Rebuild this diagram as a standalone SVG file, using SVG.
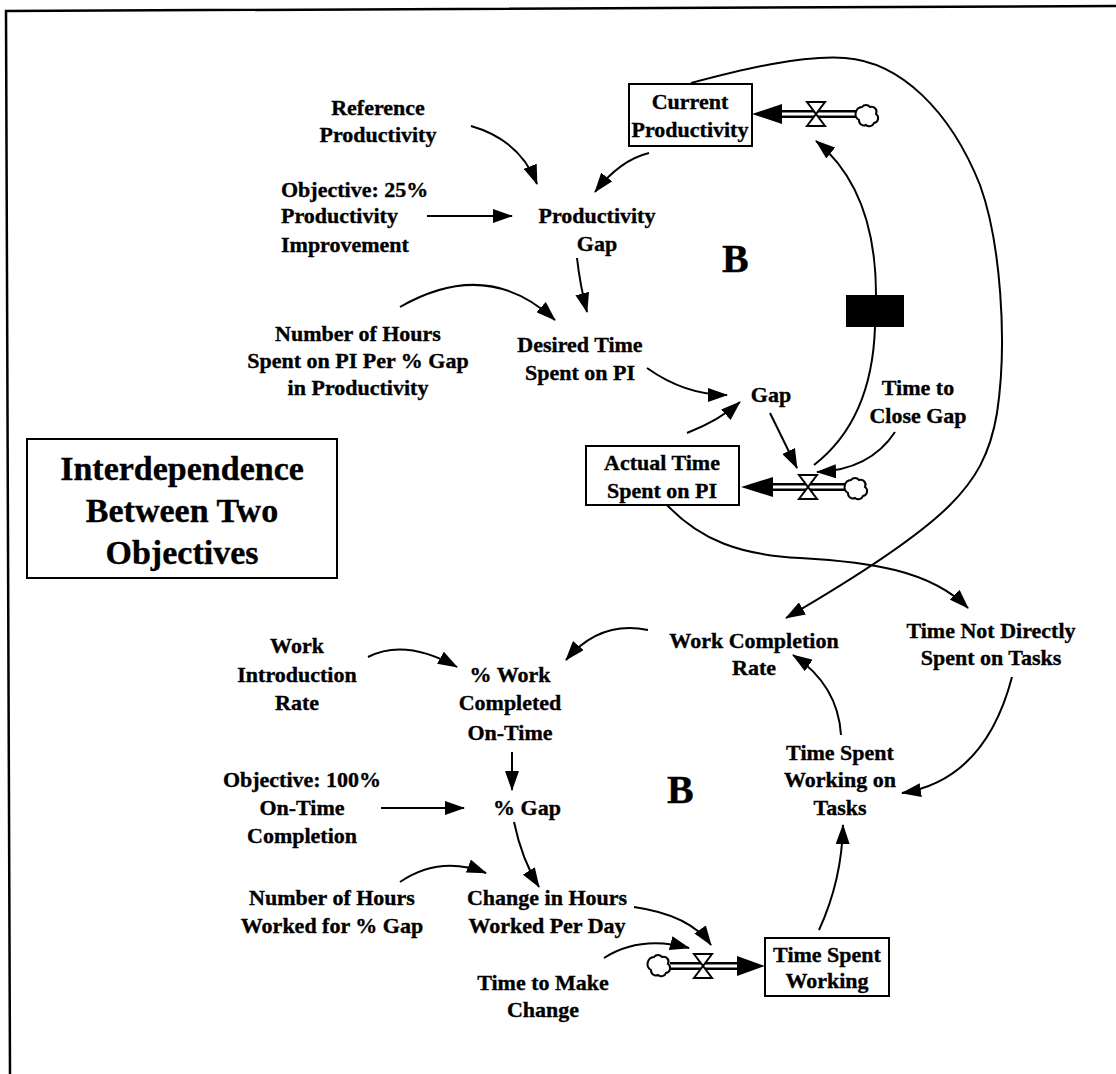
<svg xmlns="http://www.w3.org/2000/svg" width="1116" height="1074" viewBox="0 0 1116 1074">
  <style>
    .t { font-family: "Liberation Serif", "Times New Roman", serif; font-weight: bold; font-size: 22px; text-anchor: middle; fill: #000; stroke: #000; stroke-width: 0.35px; }
    .ts { text-anchor: start; }
    .title { font-size: 34px; }
    .loop { font-size: 40px; text-anchor: start; }
    .box { fill: #fff; stroke: #000; stroke-width: 2; }
    .link { fill: none; stroke: #000; stroke-width: 2; marker-end: url(#ah); }
    .pipeOut { fill: none; stroke: #000; stroke-width: 8; }
    .pipeIn { fill: none; stroke: #fff; stroke-width: 3; }
    .valve { fill: #fff; stroke: #000; stroke-width: 2; stroke-linejoin: miter; }
    .cloud { fill: #fff; stroke: #000; stroke-width: 2; }
  </style>
  <defs>
    <marker id="ah" viewBox="0 0 20 14" refX="19" refY="7" markerWidth="20" markerHeight="14" markerUnits="userSpaceOnUse" orient="auto">
      <path d="M0,0 L20,7 L0,14 z" fill="#000"/>
    </marker>
    <path id="valveShape" d="M-9,-12 L9,-12 L-9,12 L9,12 Z"/>
    <path id="cloudShape" d="M-6,-9 a5,5 0 0 1 8,0 a5,5 0 0 1 6,7 a5,5 0 0 1 -2,9 a5,5 0 0 1 -8,2 a5,5 0 0 1 -7,-5 a7,7 0 0 1 3,-13 z"/>
  </defs>

  <rect width="1116" height="1074" fill="#fff"/>
  <!-- page frame (top and left edges only) -->
  <polyline points="1116,6 6,11 10,1074" fill="none" stroke="#000" stroke-width="2.5"/>

  <!-- connectors -->
  <g id="connectors">
    <path class="link" d="M471,126 Q520,140 537,184"/>
    <path class="link" d="M427,216 L512,216"/>
    <path class="link" d="M649,153 Q620,160 595,192"/>
    <path class="link" d="M577,258 Q580,285 587,312"/>
    <path class="link" d="M400,307 Q487,257 555,320"/>
    <path class="link" d="M647,368 Q685,395 727,395"/>
    <path class="link" d="M687,433 Q720,420 740,402"/>
    <path class="link" d="M770,413 L797,468"/>
    <path class="link" d="M895,432 Q870,470 817,472"/>
    <path class="link" d="M814,465 Q872,420 875,327 L876,295 Q876,190 816,141"/>
    <path class="link" d="M691,83 C740,70 800,55 845,58 C900,62 950,110 980,185 C1000,240 1008,340 997,413 C990,455 975,480 950,505 C920,535 860,575 786,618"/>
    <path class="link" d="M667,505 C700,540 740,555 800,558 C870,562 930,570 968,608"/>
    <path class="link" d="M648,630 Q600,620 566,660"/>
    <path class="link" d="M368,657 Q405,638 457,667"/>
    <path class="link" d="M512,752 L512,790"/>
    <path class="link" d="M381,808 L464,808"/>
    <path class="link" d="M514,822 Q522,860 539,887"/>
    <path class="link" d="M400,882 Q440,855 486,873"/>
    <path class="link" d="M634,907 Q690,915 711,945"/>
    <path class="link" d="M604,958 Q640,935 689,948"/>
    <path class="link" d="M819,930 Q842,880 843,825"/>
    <path class="link" d="M841,735 Q838,685 793,655"/>
    <path class="link" d="M1012,677 Q985,780 902,793"/>
  </g>

  <!-- masked label on the rate link -->
  <g id="masked-label">
    <rect x="846" y="295" width="58" height="32" fill="#000"/>
  </g>

  <!-- flow into Current Productivity -->
  <g id="flow-productivity">
    <path class="pipeOut" d="M858,114 L780,114"/>
    <path class="pipeIn" d="M858,114 L780,114"/>
    <path d="M752,114 L782,104 L782,124 z" fill="#000"/>
    <use href="#valveShape" class="valve" x="816" y="114"/>
    <use href="#cloudShape" class="cloud" x="868" y="116"/>
  </g>

  <!-- flow into Actual Time Spent on PI -->
  <g id="flow-pi-time">
    <path class="pipeOut" d="M847,487 L771,487"/>
    <path class="pipeIn" d="M847,487 L771,487"/>
    <path d="M741,487 L773,477 L773,497 z" fill="#000"/>
    <use href="#valveShape" class="valve" x="808" y="487"/>
    <use href="#cloudShape" class="cloud" x="857" y="489"/>
  </g>

  <!-- flow into Time Spent Working -->
  <g id="flow-working">
    <path class="pipeOut" d="M670,966 L740,966"/>
    <path class="pipeIn" d="M670,966 L740,966"/>
    <path d="M765,966 L737,956 L737,976 z" fill="#000"/>
    <use href="#valveShape" class="valve" x="703" y="966"/>
    <use href="#cloudShape" class="cloud" x="660" y="966"/>
  </g>

  <!-- title -->
  <g id="title">
    <rect class="box" x="27" y="439" width="310" height="139"/>
    <text class="t title" x="182" y="480">Interdependence</text>
    <text class="t title" x="182" y="522">Between Two</text>
    <text class="t title" x="182" y="564">Objectives</text>
  </g>

  <!-- loop markers -->
  <g id="loop-top"><text class="t loop" x="722" y="272">B</text></g>
  <g id="loop-bottom"><text class="t loop" x="667" y="803">B</text></g>

  <!-- productivity loop -->
  <g id="reference-productivity">
    <text class="t" x="378" y="115">Reference</text>
    <text class="t" x="378" y="142">Productivity</text>
  </g>
  <g id="objective-25">
    <text class="t ts" x="281" y="197">Objective: 25%</text>
    <text class="t ts" x="281" y="223">Productivity</text>
    <text class="t ts" x="281" y="252">Improvement</text>
  </g>
  <g id="productivity-gap">
    <text class="t" x="597" y="223">Productivity</text>
    <text class="t" x="597" y="251">Gap</text>
  </g>
  <g id="current-productivity">
    <rect class="box" x="629" y="84" width="123" height="62"/>
    <text class="t" x="690" y="109">Current</text>
    <text class="t" x="690" y="137">Productivity</text>
  </g>
  <g id="hours-per-gap">
    <text class="t" x="358" y="341">Number of Hours</text>
    <text class="t" x="358" y="368">Spent on PI Per % Gap</text>
    <text class="t" x="358" y="395">in Productivity</text>
  </g>
  <g id="desired-time">
    <text class="t" x="580" y="352">Desired Time</text>
    <text class="t" x="580" y="380">Spent on PI</text>
  </g>
  <g id="gap">
    <text class="t" x="771" y="402">Gap</text>
  </g>
  <g id="time-to-close-gap">
    <text class="t" x="918" y="395">Time to</text>
    <text class="t" x="918" y="423">Close Gap</text>
  </g>
  <g id="actual-time">
    <rect class="box" x="586" y="446" width="153" height="59"/>
    <text class="t" x="662" y="470">Actual Time</text>
    <text class="t" x="662" y="498">Spent on PI</text>
  </g>

  <!-- on-time completion loop -->
  <g id="work-completion-rate">
    <text class="t" x="754" y="648">Work Completion</text>
    <text class="t" x="754" y="675">Rate</text>
  </g>
  <g id="time-not-on-tasks">
    <text class="t" x="991" y="638">Time Not Directly</text>
    <text class="t" x="991" y="665">Spent on Tasks</text>
  </g>
  <g id="work-introduction-rate">
    <text class="t" x="297" y="653">Work</text>
    <text class="t" x="297" y="682">Introduction</text>
    <text class="t" x="297" y="710">Rate</text>
  </g>
  <g id="work-on-time">
    <text class="t" x="510" y="682">% Work</text>
    <text class="t" x="510" y="710">Completed</text>
    <text class="t" x="510" y="740">On-Time</text>
  </g>
  <g id="objective-100">
    <text class="t" x="302" y="787">Objective: 100%</text>
    <text class="t" x="302" y="815">On-Time</text>
    <text class="t" x="302" y="843">Completion</text>
  </g>
  <g id="percent-gap">
    <text class="t" x="527" y="815">% Gap</text>
  </g>
  <g id="time-on-tasks">
    <text class="t" x="840" y="760">Time Spent</text>
    <text class="t" x="840" y="787">Working on</text>
    <text class="t" x="840" y="815">Tasks</text>
  </g>
  <g id="hours-worked-per-gap">
    <text class="t" x="332" y="905">Number of Hours</text>
    <text class="t" x="332" y="933">Worked for % Gap</text>
  </g>
  <g id="change-in-hours">
    <text class="t" x="547" y="905">Change in Hours</text>
    <text class="t" x="547" y="933">Worked Per Day</text>
  </g>
  <g id="time-to-make-change">
    <text class="t" x="543" y="990">Time to Make</text>
    <text class="t" x="543" y="1017">Change</text>
  </g>
  <g id="time-spent-working">
    <rect class="box" x="765" y="938" width="124" height="58"/>
    <text class="t" x="827" y="962">Time Spent</text>
    <text class="t" x="827" y="988">Working</text>
  </g>
</svg>
